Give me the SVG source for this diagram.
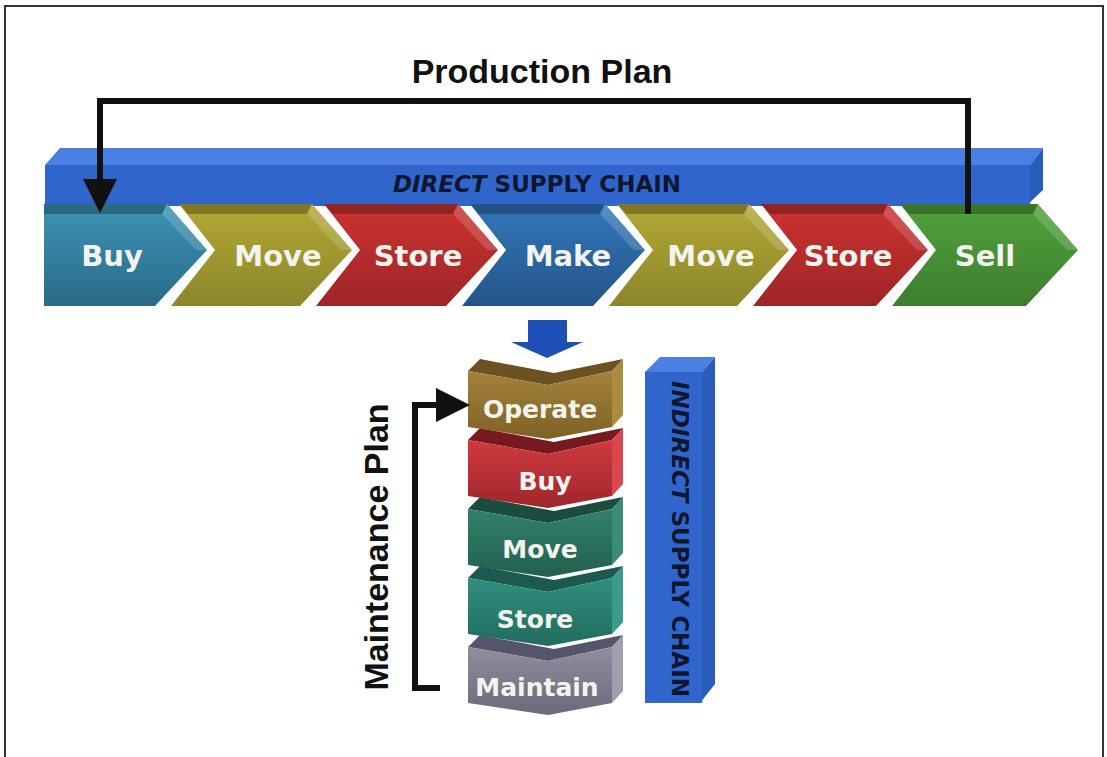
<svg xmlns="http://www.w3.org/2000/svg" width="1107" height="757" viewBox="0 0 1107 757">
<style>
.lbl{font-family:"DejaVu Sans",Verdana,sans-serif;font-weight:bold;fill:#f4f4ee;text-anchor:middle}
.chev{font-size:29px}
.blk{font-size:25px}
.head{font-family:"Liberation Sans",Arial,sans-serif;font-weight:bold;fill:#111;text-anchor:middle;font-size:34px}
.bar{font-family:"DejaVu Sans",Verdana,sans-serif;font-weight:bold;fill:#0e1630;text-anchor:middle;font-size:23px}
.topstrip{fill:#000;opacity:0.28}
.side{fill:#fff;opacity:0.16}
.conn{fill:none;stroke:#111;stroke-width:6}
</style>
<defs>
<linearGradient id="gBuy" x1="0" y1="0" x2="0" y2="1"><stop offset="0" stop-color="#3c93b6"/><stop offset="1" stop-color="#2a6a88"/></linearGradient>
<linearGradient id="gMove" x1="0" y1="0" x2="0" y2="1"><stop offset="0" stop-color="#b3a834"/><stop offset="1" stop-color="#8c862c"/></linearGradient>
<linearGradient id="gStore" x1="0" y1="0" x2="0" y2="1"><stop offset="0" stop-color="#cc3330"/><stop offset="1" stop-color="#9e2528"/></linearGradient>
<linearGradient id="gMake" x1="0" y1="0" x2="0" y2="1"><stop offset="0" stop-color="#3277ba"/><stop offset="1" stop-color="#245588"/></linearGradient>
<linearGradient id="gSell" x1="0" y1="0" x2="0" y2="1"><stop offset="0" stop-color="#52a23c"/><stop offset="1" stop-color="#3c7e2e"/></linearGradient>
<linearGradient id="gOp" x1="0" y1="0" x2="0" y2="1"><stop offset="0" stop-color="#a3823a"/><stop offset="1" stop-color="#7e6226"/></linearGradient>
<linearGradient id="gIBuy" x1="0" y1="0" x2="0" y2="1"><stop offset="0" stop-color="#d03a3e"/><stop offset="1" stop-color="#9e262c"/></linearGradient>
<linearGradient id="gIMove" x1="0" y1="0" x2="0" y2="1"><stop offset="0" stop-color="#31816c"/><stop offset="1" stop-color="#235f4e"/></linearGradient>
<linearGradient id="gIStore" x1="0" y1="0" x2="0" y2="1"><stop offset="0" stop-color="#2f8f7e"/><stop offset="1" stop-color="#226c5f"/></linearGradient>
<linearGradient id="gMaint" x1="0" y1="0" x2="0" y2="1"><stop offset="0" stop-color="#908e9e"/><stop offset="1" stop-color="#6c6a7a"/></linearGradient>
<marker id="arrow" markerUnits="userSpaceOnUse" markerWidth="34" markerHeight="34" refX="0" refY="17" orient="auto"><path d="M0,0 L34,17 L0,34 z" fill="#111"/></marker>
</defs>

<rect width="1107" height="757" fill="#fff"/>
<path d="M5,757 V6 H1103 V757" fill="none" stroke="#333" stroke-width="2"/>

<text class="head" x="542" y="83">Production Plan</text>

<g id="direct-supply-chain">
<polygon points="60,148 1043,148 1030,165 45,165" fill="#4a80e2"/>
<polygon points="45,165 1030,165 1030,206 45,206" fill="#3066cc"/>
<polygon points="1030,165 1043,148 1043,190 1026,206 1030,206" fill="#2a5cbc"/>
<text class="bar" x="537" y="192"><tspan font-style="italic">DIRECT</tspan> SUPPLY CHAIN</text>
</g>

<g id="buy">
<polygon points="44,204 167,204 207,250 155,306 44,306" fill="url(#gBuy)"/>
<polygon class="topstrip" points="44,204 167,204 162,214 44,214"/>
<polygon class="side" points="167,204 207,250 196,250 162,214"/>
<text class="lbl chev" x="112" y="266">Buy</text>
</g>
<g id="move1">
<polygon points="179,204 312,204 352,250 300,306 171,306 215,250" fill="url(#gMove)"/>
<polygon class="topstrip" points="179,204 312,204 307,214 188,214"/>
<polygon class="side" points="312,204 352,250 341,250 307,214"/>
<text class="lbl chev" x="278" y="266">Move</text>
</g>
<g id="store1">
<polygon points="324,204 458,204 498,250 446,306 316,306 360,250" fill="url(#gStore)"/>
<polygon class="topstrip" points="324,204 458,204 453,214 333,214"/>
<polygon class="side" points="458,204 498,250 487,250 453,214"/>
<text class="lbl chev" x="418" y="266">Store</text>
</g>
<g id="make">
<polygon points="470,204 605,204 645,250 593,306 462,306 506,250" fill="url(#gMake)"/>
<polygon class="topstrip" points="470,204 605,204 600,214 479,214"/>
<polygon class="side" points="605,204 645,250 634,250 600,214"/>
<text class="lbl chev" x="568" y="266">Make</text>
</g>
<g id="move2">
<polygon points="617,204 749,204 789,250 737,306 609,306 653,250" fill="url(#gMove)"/>
<polygon class="topstrip" points="617,204 749,204 744,214 626,214"/>
<polygon class="side" points="749,204 789,250 778,250 744,214"/>
<text class="lbl chev" x="711" y="266">Move</text>
</g>
<g id="store2">
<polygon points="761,204 888,204 928,250 876,306 753,306 797,250" fill="url(#gStore)"/>
<polygon class="topstrip" points="761,204 888,204 883,214 770,214"/>
<polygon class="side" points="888,204 928,250 917,250 883,214"/>
<text class="lbl chev" x="848" y="266">Store</text>
</g>
<g id="sell">
<polygon points="900,204 1038,204 1078,250 1026,306 892,306 936,250" fill="url(#gSell)"/>
<polygon class="topstrip" points="900,204 1038,204 1033,214 909,214"/>
<polygon class="side" points="1038,204 1078,250 1067,250 1033,214"/>
<text class="lbl chev" x="985" y="266">Sell</text>
</g>

<g id="indirect-supply-chain">
<polygon points="645,372 660,357 715,357 702,372" fill="#4a80e2"/>
<polygon points="645,372 702,372 702,703 645,703" fill="#3066cc"/>
<polygon points="702,372 715,357 715,684 700,703 702,703" fill="#2a5cbc"/>
<text class="bar" transform="translate(680,539) rotate(90)" x="0" y="8"><tspan font-style="italic">INDIRECT</tspan> SUPPLY CHAIN</text>
</g>

<g id="maintain">
<polygon points="468,647 480,635 554,649 623,635 612,647 548,661" fill="#56546a"/>
<polygon points="612,647 623,635 623,691 612,703" fill="#a09eae"/>
<polygon points="468,647 548,661 612,647 612,703 548,715 468,703" fill="url(#gMaint)"/>
<text class="lbl blk" x="537" y="696">Maintain</text>
</g>
<g id="store-i">
<polygon points="468,578 480,566 554,580 623,566 612,578 548,592" fill="#1c5a4f"/>
<polygon points="612,578 623,566 623,622 612,634" fill="#3a9a8b"/>
<polygon points="468,578 548,592 612,578 612,634 548,646 468,634" fill="url(#gIStore)"/>
<text class="lbl blk" x="535" y="628">Store</text>
</g>
<g id="move-i">
<polygon points="468,509 480,497 554,511 623,497 612,509 548,523" fill="#1b4c3e"/>
<polygon points="612,509 623,497 623,553 612,565" fill="#3a8c76"/>
<polygon points="468,509 548,523 612,509 612,565 548,577 468,565" fill="url(#gIMove)"/>
<text class="lbl blk" x="540" y="558">Move</text>
</g>
<g id="buy-i">
<polygon points="468,440 480,428 554,442 623,428 612,440 548,454" fill="#761a20"/>
<polygon points="612,440 623,428 623,484 612,496" fill="#d8484e"/>
<polygon points="468,440 548,454 612,440 612,496 548,508 468,496" fill="url(#gIBuy)"/>
<text class="lbl blk" x="545" y="490">Buy</text>
</g>
<g id="operate">
<polygon points="468,371 480,359 554,373 623,359 612,371 548,385" fill="#6c5220"/>
<polygon points="612,371 623,359 623,415 612,427" fill="#ac8c3e"/>
<polygon points="468,371 548,385 612,371 612,427 548,439 468,427" fill="url(#gOp)"/>
<text class="lbl blk" x="540" y="418">Operate</text>
</g>

<text class="head" transform="translate(376,547) rotate(-90)" x="0" y="12">Maintenance Plan</text>

<g id="connectors">
<path class="conn" d="M968,214 V101 H100 V179" stroke-width="5" marker-end="url(#arrow)"/>
<path class="conn" d="M440,688 H415 V405 H436" marker-end="url(#arrow)"/>
<polygon points="528,320 567,320 567,342 583,342 547,358 511,342 528,342" fill="#1e4fb4"/>
</g>
</svg>
